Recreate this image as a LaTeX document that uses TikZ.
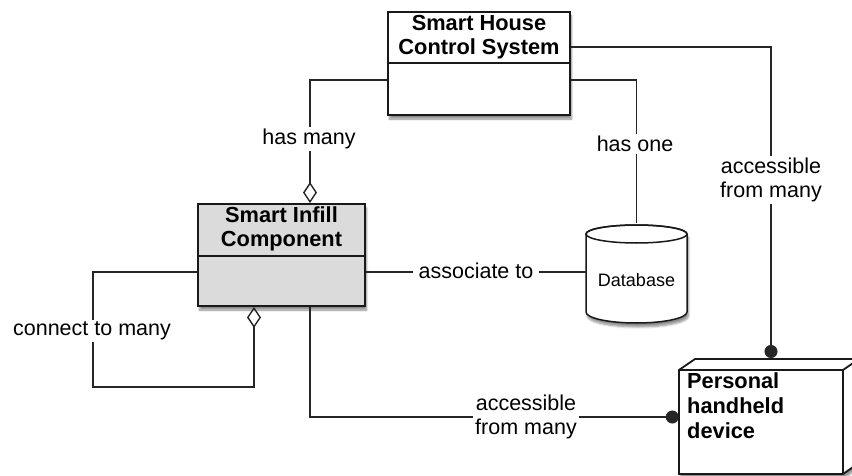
\documentclass[tikz,border=0pt]{standalone}
\usepackage{fontspec}
\setmainfont{Liberation Sans}
\usetikzlibrary{arrows.meta,shadows.blur}
\begin{document}
\begin{tikzpicture}[x=1pt,y=-1pt,
  lbl/.style={font=\fontsize{21.5}{24.5}\selectfont, fill=white, inner sep=2pt, align=center},
  ttl/.style={font=\bfseries\fontsize{21.8}{24.5}\selectfont, align=center, inner sep=0pt},
  conn/.style={draw=black!85, line width=1.4pt},
  umlbox/.style={draw=black!90, line width=1.8pt, inner sep=0pt,
     blur shadow={shadow xshift=1.5pt, shadow yshift=-4pt, shadow blur steps=6, shadow opacity=45}},
  agg/.style={-{Diamond[open,length=21pt,width=14pt,line width=1.4pt]}},
  dotend/.style={-{Circle[length=13pt]}}
]
\useasboundingbox (0,0) rectangle (852,476);

% Smart House Control System
\node[umlbox, fill=white, minimum width=182pt, minimum height=103pt] (shc) at (479,63.5) {};
\draw[line width=1.5pt, black!90] (388,63) -- (570,63);
\node[ttl] (shct) at (479,37) {Smart House\\Control System};

% Smart Infill Component
\node[umlbox, fill=black!14, minimum width=167pt, minimum height=102pt] (sic) at (281.5,255) {};
\draw[line width=1.5pt, black!90] (198,256) -- (365,256);
\node[ttl] (sict) at (281.5,229) {Smart Infill\\Component};

% Database
\node[minimum width=101pt, minimum height=98pt, inner sep=0pt] (db) at (636.5,272) {};
\draw[line width=1.5pt, black!90, fill=white,
     blur shadow={shadow xshift=1.5pt, shadow yshift=-4pt, shadow blur steps=6, shadow opacity=45}]
  (586,234) -- (586,312) arc[start angle=180, end angle=360, x radius=50.5pt, y radius=11pt]
  -- (687,234) arc[start angle=0, end angle=180, x radius=50.5pt, y radius=9pt] -- cycle;
\draw[line width=1.5pt, black!90] (636.5,234) ellipse [x radius=50.5pt, y radius=9pt];
\node[font=\fontsize{18}{20}\selectfont] (dbt) at (636.5,280) {Database};

% Personal handheld device
\node[minimum width=164pt, minimum height=104pt, inner sep=0pt] (dev) at (761,422) {};
\draw[line width=1.8pt, black!90, fill=white,
     blur shadow={shadow xshift=1.5pt, shadow yshift=-4pt, shadow blur steps=6, shadow opacity=45}]
  (679,370) -- (695,359) -- (859,359) -- (859,463) -- (843,474) -- (679,474) -- cycle;
\draw[line width=1.8pt, black!90] (679,370) -- (843,370) -- (859,359) (843,370) -- (843,474);
\node[ttl, align=left, anchor=north west, font=\bfseries\fontsize{21.8}{25}\selectfont] (devt) at (687,373) {Personal\\handheld\\device};

% connectors
\coordinate (devtop) at (771,358);
\coordinate (loopc) at (93,387);
\draw[conn, agg] ([yshift=-16.5pt]shc.west) -| ([xshift=28.5pt]sic.north);
\draw[conn] ([yshift=-16.5pt]shc.east) -| (db.north);
\draw[conn, dotend] ([yshift=16.5pt]shc.east) -| (devtop);
\draw[conn] ([yshift=-17pt]sic.east) -- (db.west);
\draw[conn, dotend] ([xshift=28.5pt]sic.south) |- ([yshift=5pt]dev.west);
\draw[conn, agg] ([yshift=-17pt]sic.west) -| (loopc) -| ([xshift=-27.5pt]sic.south);

% labels
\node[lbl] (l1) at (309,139) {has many};
\node[lbl] (l2) at (635,144) {has one};
\node[lbl] (l3) at (771,180) {accessible\\from many};
\node[lbl, inner xsep=6pt] (l4) at (476,271) {associate to};
\node[lbl] (l5) at (526,417) {accessible\\from many};
\node[lbl] (l6) at (92,331) {connect to many};
\end{tikzpicture}
\end{document}
